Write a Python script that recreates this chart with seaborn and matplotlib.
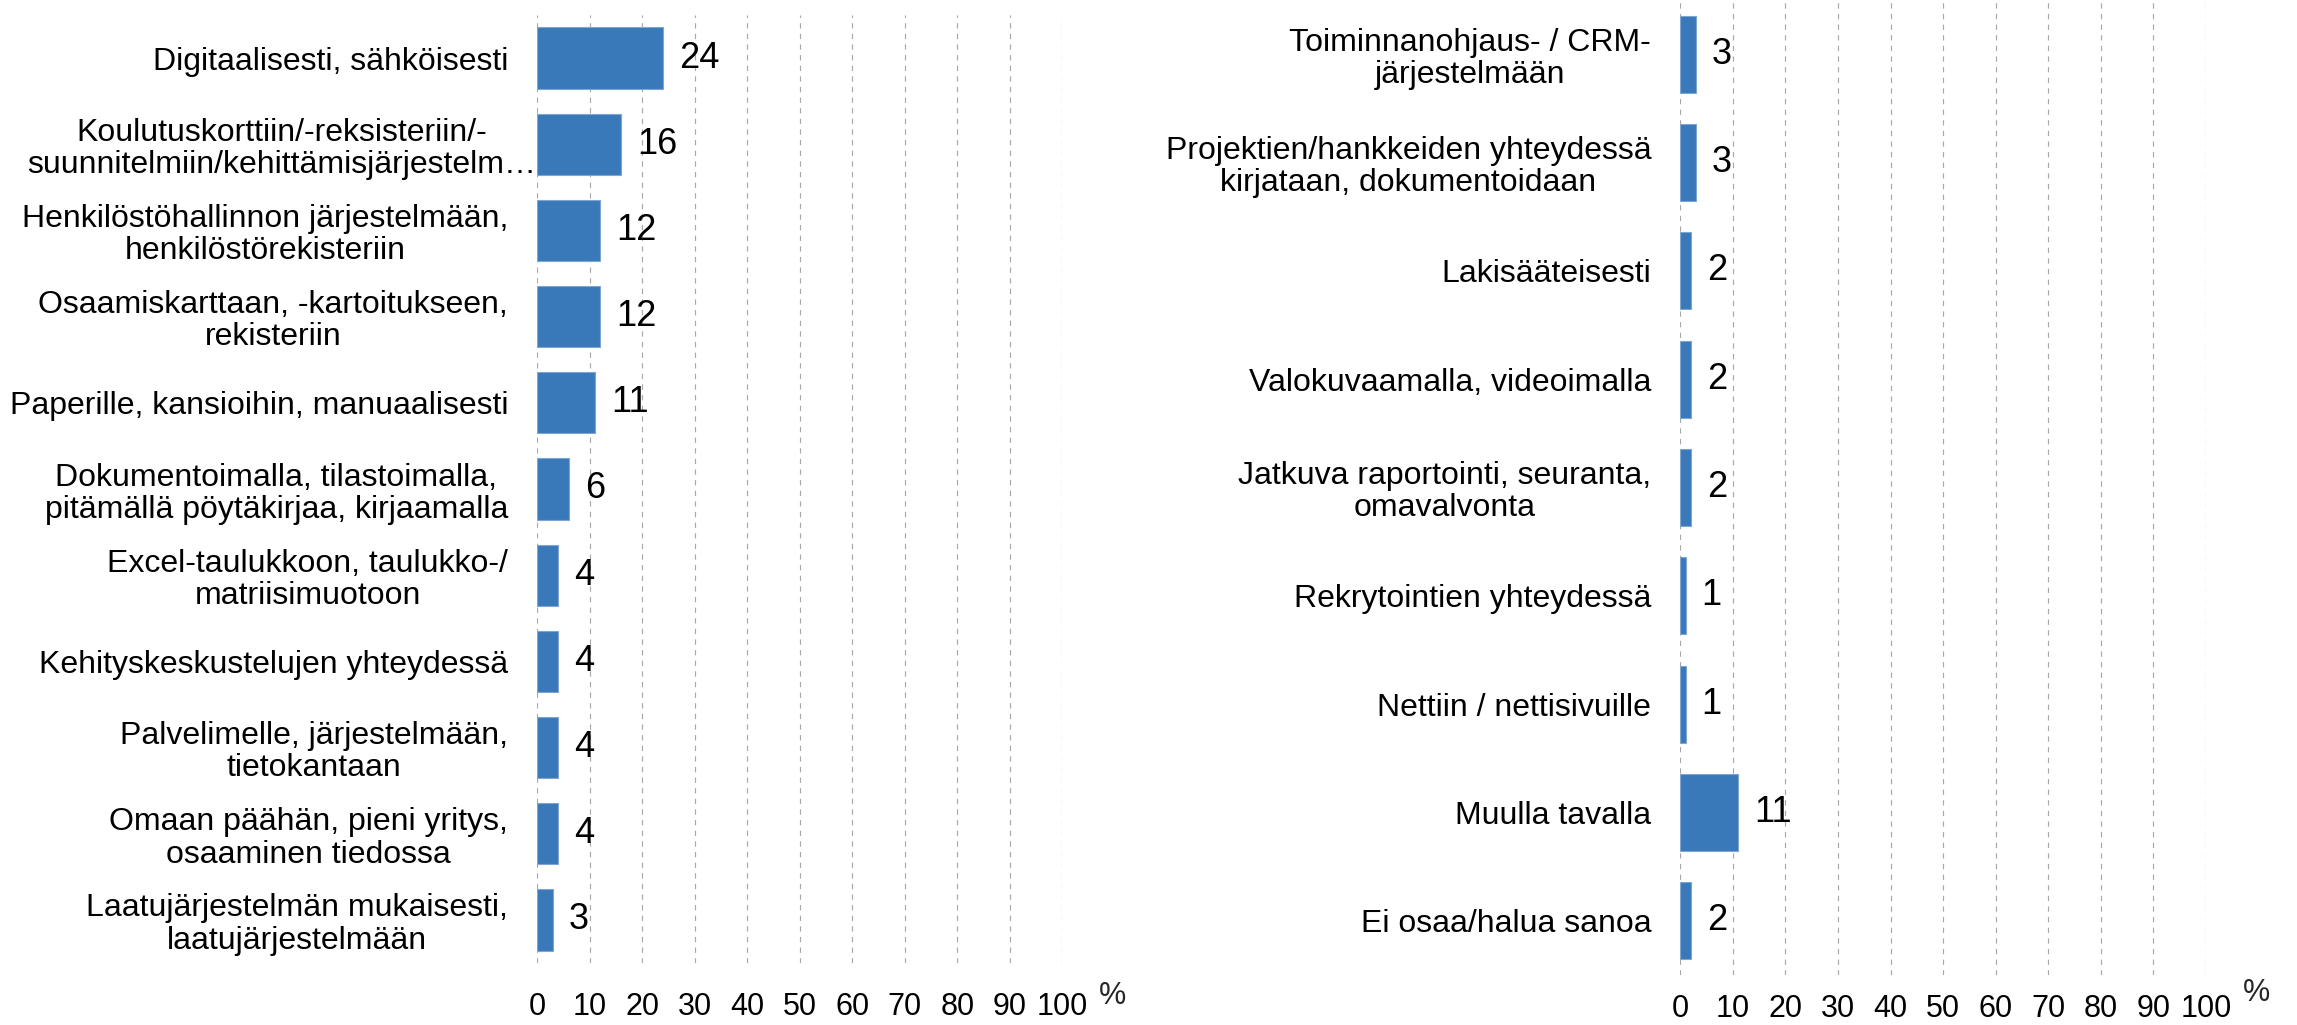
import matplotlib
matplotlib.use("Agg")
import matplotlib.pyplot as plt
import seaborn as sns
import pandas as pd

# ---- data ----
left_categories = [
    "Digitaalisesti, sähköisesti",
    "Koulutuskorttiin/-reksisteriin/-\nsuunnitelmiin/kehittämisjärjestelm…",
    "Henkilöstöhallinnon järjestelmään,\nhenkilöstörekisteriin",
    "Osaamiskarttaan, -kartoitukseen,\nrekisteriin",
    "Paperille, kansioihin, manuaalisesti",
    "Dokumentoimalla, tilastoimalla,\npitämällä pöytäkirjaa, kirjaamalla",
    "Excel-taulukkoon, taulukko-/\nmatriisimuotoon",
    "Kehityskeskustelujen yhteydessä",
    "Palvelimelle, järjestelmään,\ntietokantaan",
    "Omaan päähän, pieni yritys,\nosaaminen tiedossa",
    "Laatujärjestelmän mukaisesti,\nlaatujärjestelmään",
]
left_values = [24, 16, 12, 12, 11, 6, 4, 4, 4, 4, 3]

right_categories = [
    "Toiminnanohjaus- / CRM-\njärjestelmään",
    "Projektien/hankkeiden yhteydessä\nkirjataan, dokumentoidaan",
    "Lakisääteisesti",
    "Valokuvaamalla, videoimalla",
    "Jatkuva raportointi, seuranta,\nomavalvonta",
    "Rekrytointien yhteydessä",
    "Nettiin / nettisivuille",
    "Muulla tavalla",
    "Ei osaa/halua sanoa",
]
right_values = [3, 3, 2, 2, 2, 1, 1, 11, 2]

x_ticks = [0, 10, 20, 30, 40, 50, 60, 70, 80, 90, 100]
unit_label = "%"

# ---- style ----
sns.set_style("white")
plt.rcParams["font.family"] = ["Liberation Sans", "DejaVu Sans"]

BAR_COLOR = "#3A79B9"
W, H = 2297, 1025
fig = plt.figure(figsize=(W / 100, H / 100), dpi=100)

ax_l = fig.add_axes([537.3 / W, 1 - 963 / H, (1062.3 - 537.3) / W, (963 - 15) / H])
ax_r = fig.add_axes([1680.3 / W, 1 - 975 / H, (2206 - 1680.3) / W, (975 - 0) / H])


def draw(ax, cats, vals, xpad):
    df = pd.DataFrame({"cat": cats, "val": vals})
    sns.barplot(data=df, x="val", y="cat", orient="h", ax=ax, color=BAR_COLOR,
                saturation=1, width=0.71, edgecolor="#7FA6D1", linewidth=0.8,
                zorder=3)
    ax.set_xlim(0, 100)
    ax.set_xticks(x_ticks)
    ax.set_xticklabels([str(t) for t in x_ticks])
    ax.set_xlabel("")
    ax.set_ylabel("")
    for s in ax.spines.values():
        s.set_visible(False)
    ax.xaxis.grid(True, color="#A8A8A8", linestyle=(0, (4.5, 4.5)), linewidth=0.85, zorder=0)
    ax.yaxis.grid(False)
    ax.set_axisbelow(True)
    ax.tick_params(axis="x", length=0, pad=xpad, labelsize=22, colors="black")
    ax.tick_params(axis="y", length=0, pad=21, labelsize=23, colors="black")
    for lbl in ax.get_yticklabels():
        lbl.set_multialignment("center")
        lbl.set_linespacing(1.1)
    ax.bar_label(ax.containers[0], labels=[str(v) for v in vals], padding=11.5,
                 fontsize=26, color="black")


draw(ax_l, left_categories, left_values, 21)
draw(ax_r, right_categories, right_values, 13.5)

# truncated label reaches up to the bar in the reference
ax_l.yaxis.get_major_ticks()[1].set_pad(1)

fig.text(1112 / W, 1 - 996 / H, unit_label, fontsize=22, ha="center", va="center")
fig.text(2256 / W, 1 - 993 / H, unit_label, fontsize=22, ha="center", va="center")

fig.savefig("out.png", dpi=100, facecolor="white")
